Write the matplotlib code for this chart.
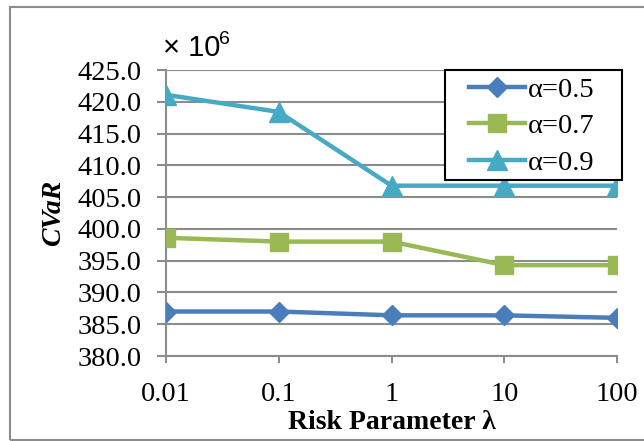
import matplotlib
matplotlib.use("Agg")
import matplotlib.pyplot as plt
from matplotlib.patches import Rectangle

# data
categories = ["0.01", "0.1", "1", "10", "100"]
cvar_a05 = [387.0, 387.0, 386.4, 386.4, 386.0]
cvar_a07 = [398.6, 398.0, 398.0, 394.3, 394.3]
cvar_a09 = [421.1, 418.4, 406.8, 406.8, 406.8]
series_labels = ["α=0.5", "α=0.7", "α=0.9"]
y_ticks = [380, 385, 390, 395, 400, 405, 410, 415, 420, 425]

plt.rcParams['font.family'] = ['Liberation Serif', 'DejaVu Serif']

W, H = 644, 441
fig = plt.figure(figsize=(W / 100, H / 100), dpi=100)
ax = fig.add_axes([166 / W, 1 - 356 / H, (617 - 166) / W, (356 - 70) / H])

x = list(range(len(categories)))
ax.plot(x, cvar_a05, color='#4A7EBB', lw=3.2, marker='D', ms=10, label=series_labels[0], zorder=3)
ax.plot(x, cvar_a07, color='#98B954', lw=3.2, marker='s', ms=13.5, label=series_labels[1], zorder=3)
ax.plot(x, cvar_a09, color='#46AAC5', lw=3.2, marker='^', ms=15, label=series_labels[2], zorder=3)

ax.set_xlim(0, len(categories) - 1)
ax.set_ylim(380, 425)
ax.set_xticks(x)
ax.set_xticklabels(categories, fontsize=20.5)
ax.set_yticks(y_ticks)
ax.set_yticklabels([f"{v:.1f}" for v in y_ticks], fontsize=20.5)

grid_color = '#8C8C8C'
ax.yaxis.grid(True, color=grid_color, lw=1.5)
ax.set_axisbelow(True)
for side in ['top', 'right']:
    ax.spines[side].set_visible(False)
for side in ['left', 'bottom']:
    ax.spines[side].set_color(grid_color)
    ax.spines[side].set_linewidth(1.5)
ax.tick_params(axis='y', length=6.5, width=1.5, color=grid_color, pad=11)
ax.tick_params(axis='x', length=5, width=1.5, color=grid_color, pad=14)

ax.set_ylabel("CVaR", fontsize=20, fontweight='bold', style='italic', labelpad=8)
ax.set_xlabel("Risk Parameter λ", fontsize=20, fontweight='bold', labelpad=2)

# the "x 10^6" multiplier above the axis
fig.text(163 / W, 1 - 48 / H, "× 10", fontsize=21, family='Liberation Sans', va='center')
fig.text(219 / W, 1 - 40 / H, "6", fontsize=14, family='Liberation Sans', va='center')

# legend: entries without frame, frame drawn as a separate box behind them
leg = ax.legend(loc='center left', bbox_to_anchor=(469 / W, 1 - 126.5 / H), bbox_transform=fig.transFigure,
                fontsize=20.5, frameon=False, handlelength=1.97, handletextpad=0.1,
                borderpad=0, labelspacing=0.36, borderaxespad=0)
leg.set_zorder(6)
ax.add_patch(Rectangle((445 / W, 1 - 180 / H), (622 - 445) / W, 110 / H, transform=fig.transFigure,
                       facecolor='white', edgecolor='black', lw=1.5, zorder=5, clip_on=False))

# outer chart border
fig.patches.append(Rectangle((10 / W, 1 / H), 1.2, 1 - 8 / H, transform=fig.transFigure,
                             fill=False, edgecolor='#8C8C8C', lw=1.5))

fig.savefig("out.png", dpi=100)
